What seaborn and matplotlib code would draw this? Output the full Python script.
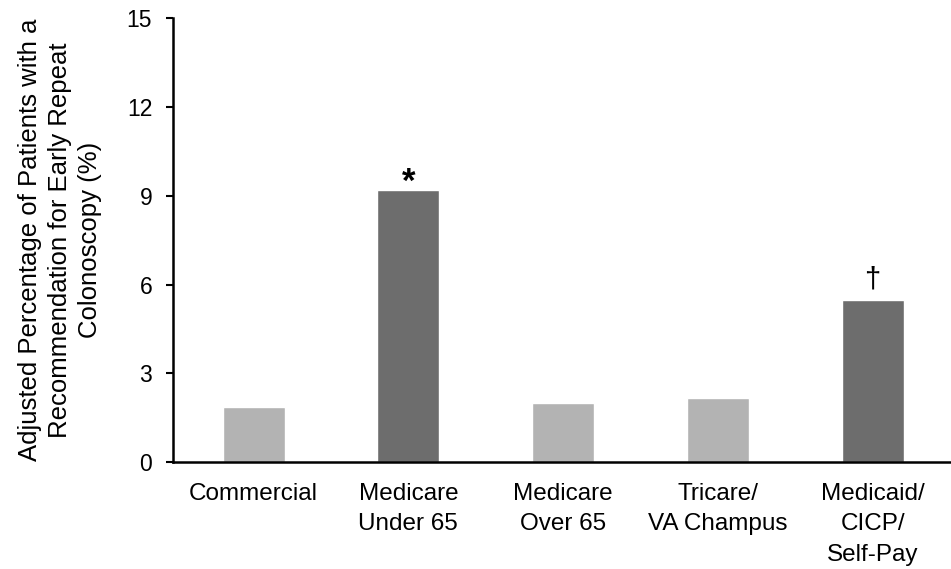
import matplotlib
matplotlib.use("Agg")
import matplotlib.pyplot as plt
import seaborn as sns
import pandas as pd

categories = ["Commercial", "Medicare\nUnder 65", "Medicare\nOver 65", "Tricare/\nVA Champus", "Medicaid/\nCICP/\nSelf-Pay"]
values = [1.87, 9.18, 1.98, 2.16, 5.47]
markers = ["", "*", "", "", "\u2020"]
yticks = [0, 3, 6, 9, 12, 15]
colors = ["#b3b3b3", "#6d6d6d", "#b3b3b3", "#b3b3b3", "#6d6d6d"]

sns.set_style("white", {"text.color": "black", "axes.labelcolor": "black",
                        "xtick.color": "black", "ytick.color": "black",
                        "axes.edgecolor": "black"})
plt.rcParams["font.family"] = ["Liberation Sans", "DejaVu Sans"]

df = pd.DataFrame({"cat": categories, "val": values})

fig = plt.figure(figsize=(9.51, 5.69), dpi=100)
ax = fig.add_axes([0.182, 0.188, 0.817, 0.780])
sns.barplot(data=df, x="cat", y="val", hue="cat", palette=colors, width=0.4,
            legend=False, ax=ax, saturation=1)

ax.set_ylim(0, 15)
ax.set_xlim(-0.52, 4.5)
ax.set_yticks(yticks)
ax.set_yticklabels([str(t) for t in yticks], fontsize=16.5)
ax.tick_params(axis="x", length=0, labelsize=17.5, pad=15)
for lbl in ax.get_xticklabels():
    lbl.set_linespacing(1.5)
ax.tick_params(axis="y", direction="out", length=5, width=1.5, left=True, pad=10)
ax.set_xlabel("")
ax.set_ylabel("Adjusted Percentage of Patients with a\nRecommendation for Early Repeat\nColonoscopy (%)",
              fontsize=18.5, labelpad=18, linespacing=1.3)
for s in ["top", "right"]:
    ax.spines[s].set_visible(False)
for s in ["left", "bottom"]:
    ax.spines[s].set_linewidth(1.8)
    ax.spines[s].set_color("black")

for i, (v, m) in enumerate(zip(values, markers)):
    if m == "*":
        ax.annotate(m, (i, v), xytext=(0, -6), textcoords="offset points",
                    ha="center", va="bottom", fontsize=25, fontweight="bold")
    elif m:
        ax.annotate(m, (i, v), xytext=(0, 5), textcoords="offset points",
                    ha="center", va="bottom", fontsize=21)

fig.savefig("out.png", dpi=100)
